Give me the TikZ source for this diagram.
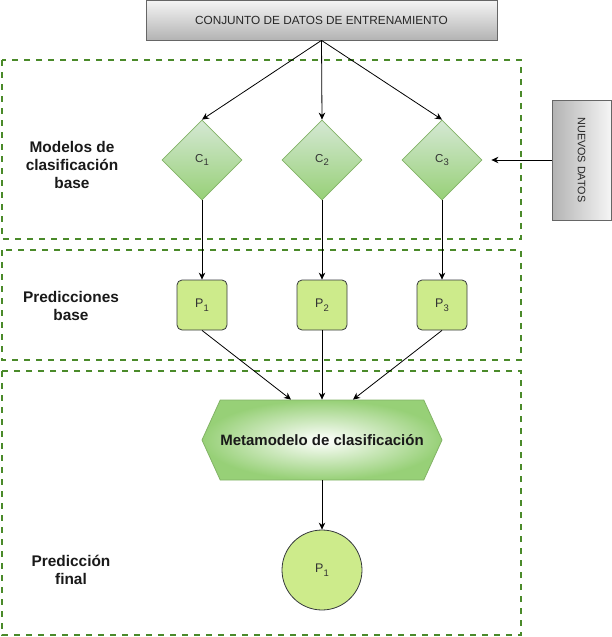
\documentclass[tikz,border=0pt]{standalone}
\usepackage{fontspec}
\setmainfont{Liberation Sans}
\usetikzlibrary{shapes.geometric,shapes.symbols,arrows.meta,calc}
\definecolor{zone}{HTML}{4A8A2A}
\definecolor{dgreenfill}{HTML}{97D077}
\definecolor{lgreenfill}{HTML}{D5E8D4}
\definecolor{gstroke}{HTML}{82B366}
\definecolor{pfill}{HTML}{CDEB8B}
\definecolor{pstroke}{HTML}{36393D}
\definecolor{gtop}{HTML}{F5F5F5}
\definecolor{gbot}{HTML}{B3B3B3}
\definecolor{gline}{HTML}{666666}
\newcommand{\mysub}[1]{\raisebox{-0.3em}{\fontsize{9.5}{10}\selectfont #1}}
\begin{document}
\begin{tikzpicture}[x=1pt,y=-1pt,
  arr/.style={-{Stealth[length=7pt,width=6.5pt]},line width=0.8pt,black},
  zonebox/.style={draw=zone,line width=1.8pt,dash pattern=on 6pt off 6pt},
  zonelabel/.style={font=\fontsize{15.4}{17.8}\selectfont\bfseries,align=center,text=black!90},
  graybox/.style={draw=gline,line width=0.8pt,inner sep=0pt},
  classif/.style={diamond,draw=gstroke,line width=0.8pt,top color=lgreenfill,bottom color=dgreenfill,minimum size=80pt,inner sep=0pt,font=\fontsize{11.5}{13}\selectfont,text=black!80},
  predbox/.style={rectangle,rounded corners=5pt,draw=pstroke,line width=0.8pt,fill=pfill,minimum size=50pt,inner sep=0pt,font=\fontsize{12.5}{14}\selectfont,text=black!80}
]
\useasboundingbox (0,0) rectangle (612,637);

% zones
\draw[zonebox] (2,60) rectangle (521,239);
\draw[zonebox] (2,250) rectangle (521,360);
\draw[zonebox] (2,371) rectangle (521,635);

% zone labels
\node[zonelabel] (lab1) at (72,165) {Modelos de\\clasificación\\base};
\node[zonelabel] (lab2) at (71,306) {Predicciones\\base};
\node[zonelabel] (lab3) at (71,570) {Predicción\\final};

% top data box
\node[graybox,top color=gtop,bottom color=gbot,minimum width=351pt,minimum height=40pt,font=\fontsize{11.8}{14}\selectfont,text=black!85] (train) at (321.5,20) {CONJUNTO DE DATOS DE ENTRENAMIENTO};

% new data box
\node[graybox,left color=gbot,right color=gtop,minimum width=59pt,minimum height=120pt,font=\fontsize{10.8}{13}\selectfont,text=black!85] (new) at (581.5,160) {\rotatebox{-90}{NUEVOS DATOS}};

% classifiers
\node[classif] (c1) at (202,160) {C\mysub{1}};
\node[classif] (c2) at (322,160) {C\mysub{2}};
\node[classif] (c3) at (442,160) {C\mysub{3}};

% predictions
\node[predbox] (p1) at (202,305) {P\mysub{1}};
\node[predbox] (p2) at (322,305) {P\mysub{2}};
\node[predbox] (p3) at (442,305) {P\mysub{3}};

% meta model
\node[signal,signal to=west and east,signal pointer angle=131,draw=gstroke,line width=0.8pt,inner color=white,outer color=dgreenfill,minimum width=240pt,minimum height=80pt,inner sep=0pt,font=\fontsize{15}{17}\selectfont\bfseries,text=black!90] (meta) at (322,440) {Metamodelo de clasificación};

% final prediction
\node[circle,draw=pstroke,line width=0.8pt,fill=pfill,minimum size=80pt,inner sep=0pt,font=\fontsize{12.5}{14}\selectfont,text=black!80] (pf) at (322,570) {P\mysub{1}};

% connectors
\draw[arr] (train.south) -- (c1.north);
\draw[arr] (train.south) -- (c2.north);
\draw[arr] (train.south) -- (c3.north);
\draw[arr,shorten >=9pt] (new.west) -- (c3.east);
\draw[arr] (c1.south) -- (p1.north);
\draw[arr] (c2.south) -- (p2.north);
\draw[arr] (c3.south) -- (p3.north);
\draw[arr] (p1.south) -- ([xshift=-31pt]meta.north);
\draw[arr] (p2.south) -- (meta.north);
\draw[arr] (p3.south) -- ([xshift=31pt]meta.north);
\draw[arr] (meta.south) -- (pf.north);
\end{tikzpicture}
\end{document}
